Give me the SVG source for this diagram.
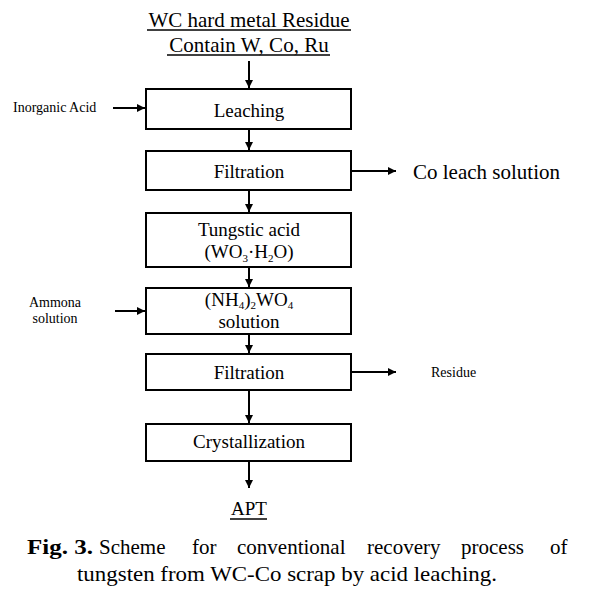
<svg xmlns="http://www.w3.org/2000/svg" width="589" height="590" viewBox="0 0 589 590">
<style>
text{font-family:"Liberation Serif","Times New Roman",serif;fill:#000}
.box{fill:#fff;stroke:#000;stroke-width:2}
.lbl{font-size:19px;text-anchor:middle}
.big{font-size:21px}
.cap{font-size:21px}
.sm{font-size:14px}
.sub{font-size:11px}
.ln{stroke:#000;stroke-width:2;fill:none;marker-end:url(#ah)}
.ul{stroke:#000;stroke-width:1.3}
</style>
<defs>
<marker id="ah" viewBox="0 0 10 10" refX="10" refY="5" markerWidth="4" markerHeight="4" orient="auto" markerUnits="strokeWidth">
<path d="M0,0 L10,5 L0,10 Z" fill="#000"/>
</marker>
</defs>
<rect width="589" height="590" fill="#fff"/>
<g id="title">
<text class="big" x="249" y="27" text-anchor="middle">WC hard metal Residue</text>
<line class="ul" x1="147" y1="30" x2="351" y2="30"/>
<text class="big" x="249" y="52" text-anchor="middle">Contain W, Co, Ru</text>
<line class="ul" x1="167" y1="55" x2="330" y2="55"/>
</g>
<g id="connectors">
<line class="ln" x1="249" y1="61" x2="249" y2="88"/>
<line class="ln" x1="249" y1="129" x2="249" y2="150"/>
<line class="ln" x1="249" y1="190" x2="249" y2="212"/>
<line class="ln" x1="249" y1="267" x2="249" y2="287"/>
<line class="ln" x1="249" y1="334" x2="249" y2="353"/>
<line class="ln" x1="249" y1="390" x2="249" y2="423"/>
<line class="ln" x1="249" y1="461" x2="249" y2="488"/>
<line class="ln" x1="113" y1="108" x2="145" y2="108"/>
<line class="ln" x1="115" y1="311" x2="145" y2="311"/>
<line class="ln" x1="352" y1="171" x2="396" y2="171"/>
<line class="ln" x1="352" y1="372" x2="396" y2="372"/>
</g>
<g id="leaching">
<rect class="box" x="146" y="89" width="205" height="40"/>
<text class="lbl" x="249" y="117">Leaching</text>
</g>
<g id="filtration1">
<rect class="box" x="146" y="151" width="205" height="39"/>
<text class="lbl" x="249" y="178">Filtration</text>
</g>
<g id="tungstic">
<rect class="box" x="146" y="213" width="205" height="54"/>
<text class="lbl" x="249" y="236">Tungstic acid</text>
<text class="lbl" x="249" y="258">(WO<tspan class="sub" dy="4">3</tspan><tspan dy="-4">·H</tspan><tspan class="sub" dy="4">2</tspan><tspan dy="-4">O)</tspan></text>
</g>
<g id="ammonium">
<rect class="box" x="146" y="288" width="205" height="46"/>
<text class="lbl" x="249" y="306">(NH<tspan class="sub" dy="3">4</tspan><tspan dy="-3">)</tspan><tspan class="sub" dy="3">2</tspan><tspan dy="-3">WO</tspan><tspan class="sub" dy="3">4</tspan></text>
<text class="lbl" x="249" y="328">solution</text>
</g>
<g id="filtration2">
<rect class="box" x="146" y="354" width="205" height="36"/>
<text class="lbl" x="249" y="379">Filtration</text>
</g>
<g id="crystallization">
<rect class="box" x="146" y="424" width="205" height="37"/>
<text class="lbl" x="249" y="448">Crystallization</text>
</g>
<g id="inorganic">
<text class="sm" x="13" y="112">Inorganic Acid</text>
</g>
<g id="ammona">
<text class="sm" x="55" y="307" text-anchor="middle">Ammona</text>
<text class="sm" x="55" y="323" text-anchor="middle">solution</text>
</g>
<g id="coleach">
<text class="big" x="413" y="179" font-size="21.5">Co leach solution</text>
</g>
<g id="residue">
<text class="sm" x="431" y="377">Residue</text>
</g>
<g id="apt">
<text x="249" y="515" font-size="19" text-anchor="middle">APT</text>
<line class="ul" x1="230" y1="519" x2="267" y2="519"/>
</g>
<g id="caption">
<text class="cap" x="27" y="554" font-weight="bold" textLength="66" lengthAdjust="spacingAndGlyphs">Fig. 3.</text>
<text class="cap" x="99" y="554">Scheme</text>
<text class="cap" x="192" y="554">for</text>
<text class="cap" x="237" y="554">conventional</text>
<text class="cap" x="367" y="554">recovery</text>
<text class="cap" x="461" y="554">process</text>
<text class="cap" x="550" y="554">of</text>
<text class="cap" x="77" y="581" textLength="420" lengthAdjust="spacingAndGlyphs">tungsten from WC-Co scrap by acid leaching.</text>
</g>
</svg>
